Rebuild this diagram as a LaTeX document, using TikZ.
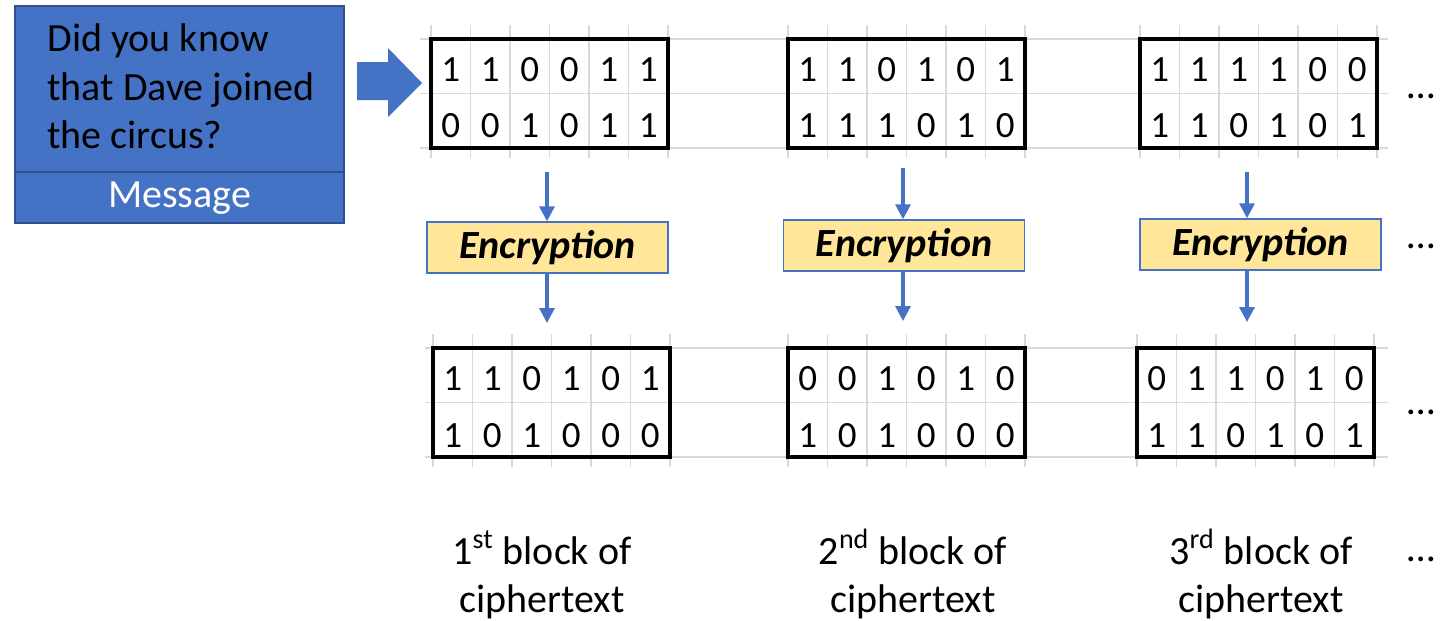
\documentclass[tikz,border=0pt]{standalone}
\usepackage{fontspec}
\setmainfont{Carlito}
\usetikzlibrary{arrows.meta,calc}
\definecolor{msgblue}{HTML}{4472C4}
\definecolor{msgedge}{HTML}{2F528F}
\definecolor{encfill}{HTML}{FFE699}
\definecolor{gridgray}{HTML}{D9D9D9}
\newcommand{\bitrow}[4]{%
  \foreach \b [count=\i from 0] in {#4} {\node[bit] (#1-\i) at ({#2+39.5*(\i+0.5)}, #3) {\b};}}
\newcommand{\gridblock}[3]{% #1 left x, #2 top y, #3 bottom y
  \foreach \k in {0,...,6} {\draw[gridline] ({#1+39.5*\k}, {#2-14}) -- ({#1+39.5*\k}, {#3+10});}}
\begin{document}
\begin{tikzpicture}[x=0.5pt,y=-0.5pt,
  gridline/.style={draw=gridgray, line width=0.8pt},
  blockframe/.style={draw=black, line width=2pt, minimum width=118.5pt, minimum height=54.5pt, inner sep=0pt},
  bit/.style={font=\fontsize{18.5}{22}\selectfont, anchor=base, inner sep=0pt},
  encbox/.style={draw=msgblue, fill=encfill, line width=0.7pt, minimum width=120.5pt, minimum height=25.5pt, inner sep=0pt, font=\fontsize{20}{24}\selectfont\bfseries\itshape},
  flow/.style={draw=msgblue, line width=1.6pt, -{Triangle[length=7.5pt,width=7.5pt]}},
  lbl/.style={font=\fontsize{20}{24}\selectfont, align=center, inner sep=0pt, anchor=base},
  dotsnode/.style={font=\fontsize{20}{24}\selectfont, anchor=base, inner sep=0pt},
]
\fill[white] (0,0) rectangle (1453,621);
\useasboundingbox (0,0) rectangle (1453,621);

% message box
\node[draw=msgedge, fill=msgblue, line width=0.7pt, minimum width=164.5pt, minimum height=108.5pt, inner sep=0pt] (msg) at (179.5,114.5) {};
\draw[msgedge, line width=0.7pt] (msg.west |- 0,172) -- (msg.east |- 0,172);
\node[anchor=base west, inner sep=0pt, font=\fontsize{20}{24}\selectfont] (msgl1) at (47,52) {Did you know};
\node[anchor=base west, inner sep=0pt, font=\fontsize{20}{24}\selectfont] (msgl2) at (47,100) {that Dave joined};
\node[anchor=base west, inner sep=0pt, font=\fontsize{20}{24}\selectfont] (msgl3) at (47,148) {the circus?};
\node[anchor=base, inner sep=0pt, font=\fontsize{20}{24}\selectfont, text=white] (msglabel) at (179.5,207) {Message};

% block arrow
\fill[msgblue] (357,62) -- (388,62) -- (388,48) -- (422,83) -- (388,117) -- (388,100) -- (357,100) -- cycle;

% horizontal grid lines
\foreach \y in {39,93.5,148} {\draw[gridline] (420,\y) -- (1388,\y);}
\foreach \y in {348,402.5,457} {\draw[gridline] (425,\y) -- (1388,\y);}
% vertical grid lines
\gridblock{431}{39}{148}
\gridblock{788}{39}{148}
\gridblock{1140}{39}{148}
\gridblock{433}{348}{457}
\gridblock{788}{348}{457}
\gridblock{1137}{348}{457}

% bits
\bitrow{p1a}{431}{81}{1,1,0,0,1,1}
\bitrow{p1b}{431}{137}{0,0,1,0,1,1}
\bitrow{p2a}{788}{81}{1,1,0,1,0,1}
\bitrow{p2b}{788}{137}{1,1,1,0,1,0}
\bitrow{p3a}{1140}{81}{1,1,1,1,0,0}
\bitrow{p3b}{1140}{137}{1,1,0,1,0,1}
\bitrow{c1a}{433}{390}{1,1,0,1,0,1}
\bitrow{c1b}{433}{447}{1,0,1,0,0,0}
\bitrow{c2a}{788}{390}{0,0,1,0,1,0}
\bitrow{c2b}{788}{447}{1,0,1,0,0,0}
\bitrow{c3a}{1137}{390}{0,1,1,0,1,0}
\bitrow{c3b}{1137}{447}{1,1,0,1,0,1}

% frames
\node[blockframe] (p1) at (549.5,93.5) {};
\node[blockframe] (p2) at (906.5,93.5) {};
\node[blockframe] (p3) at (1258.5,93.5) {};
\node[blockframe] (c1) at (551.5,402.5) {};
\node[blockframe] (c2) at (906.5,402.5) {};
\node[blockframe] (c3) at (1255.5,402.5) {};

% encryption
\node[encbox] (e1) at (547.5,247.5) {Encryption};
\node[encbox] (e2) at (904,245.5) {Encryption};
\node[encbox] (e3) at (1260.5,244.5) {Encryption};

\coordinate (a1s) at (547,172);
\coordinate (a1e) at (547,323);
\coordinate (a2s) at (903,168);
\coordinate (a2e) at (903,321);
\coordinate (a3s) at (1247,172);
\coordinate (a3e) at (1247,322);
\draw[flow] (a1s) -- (a1s |- e1.north);
\draw[flow] (a1e |- e1.south) -- (a1e);
\draw[flow] (a2s) -- (a2s |- e2.north);
\draw[flow] (a2e |- e2.south) -- (a2e);
\draw[flow] (a3s) -- (a3s |- e3.north);
\draw[flow] (a3e |- e3.south) -- (a3e);

% labels
\node[lbl] (l1) at (542,612) {1\textsuperscript{st} block of\\ciphertext};
\node[lbl] (l2) at (913,612) {2\textsuperscript{nd} block of\\ciphertext};
\node[lbl] (l3) at (1261,612) {3\textsuperscript{rd} block of\\ciphertext};

% ellipses
\node[dotsnode] (d1) at (1421,98) {…};
\node[dotsnode] (d2) at (1421,248) {…};
\node[dotsnode] (d3) at (1421,414) {…};
\node[dotsnode] (d4) at (1421,561) {…};
\end{tikzpicture}
\end{document}
